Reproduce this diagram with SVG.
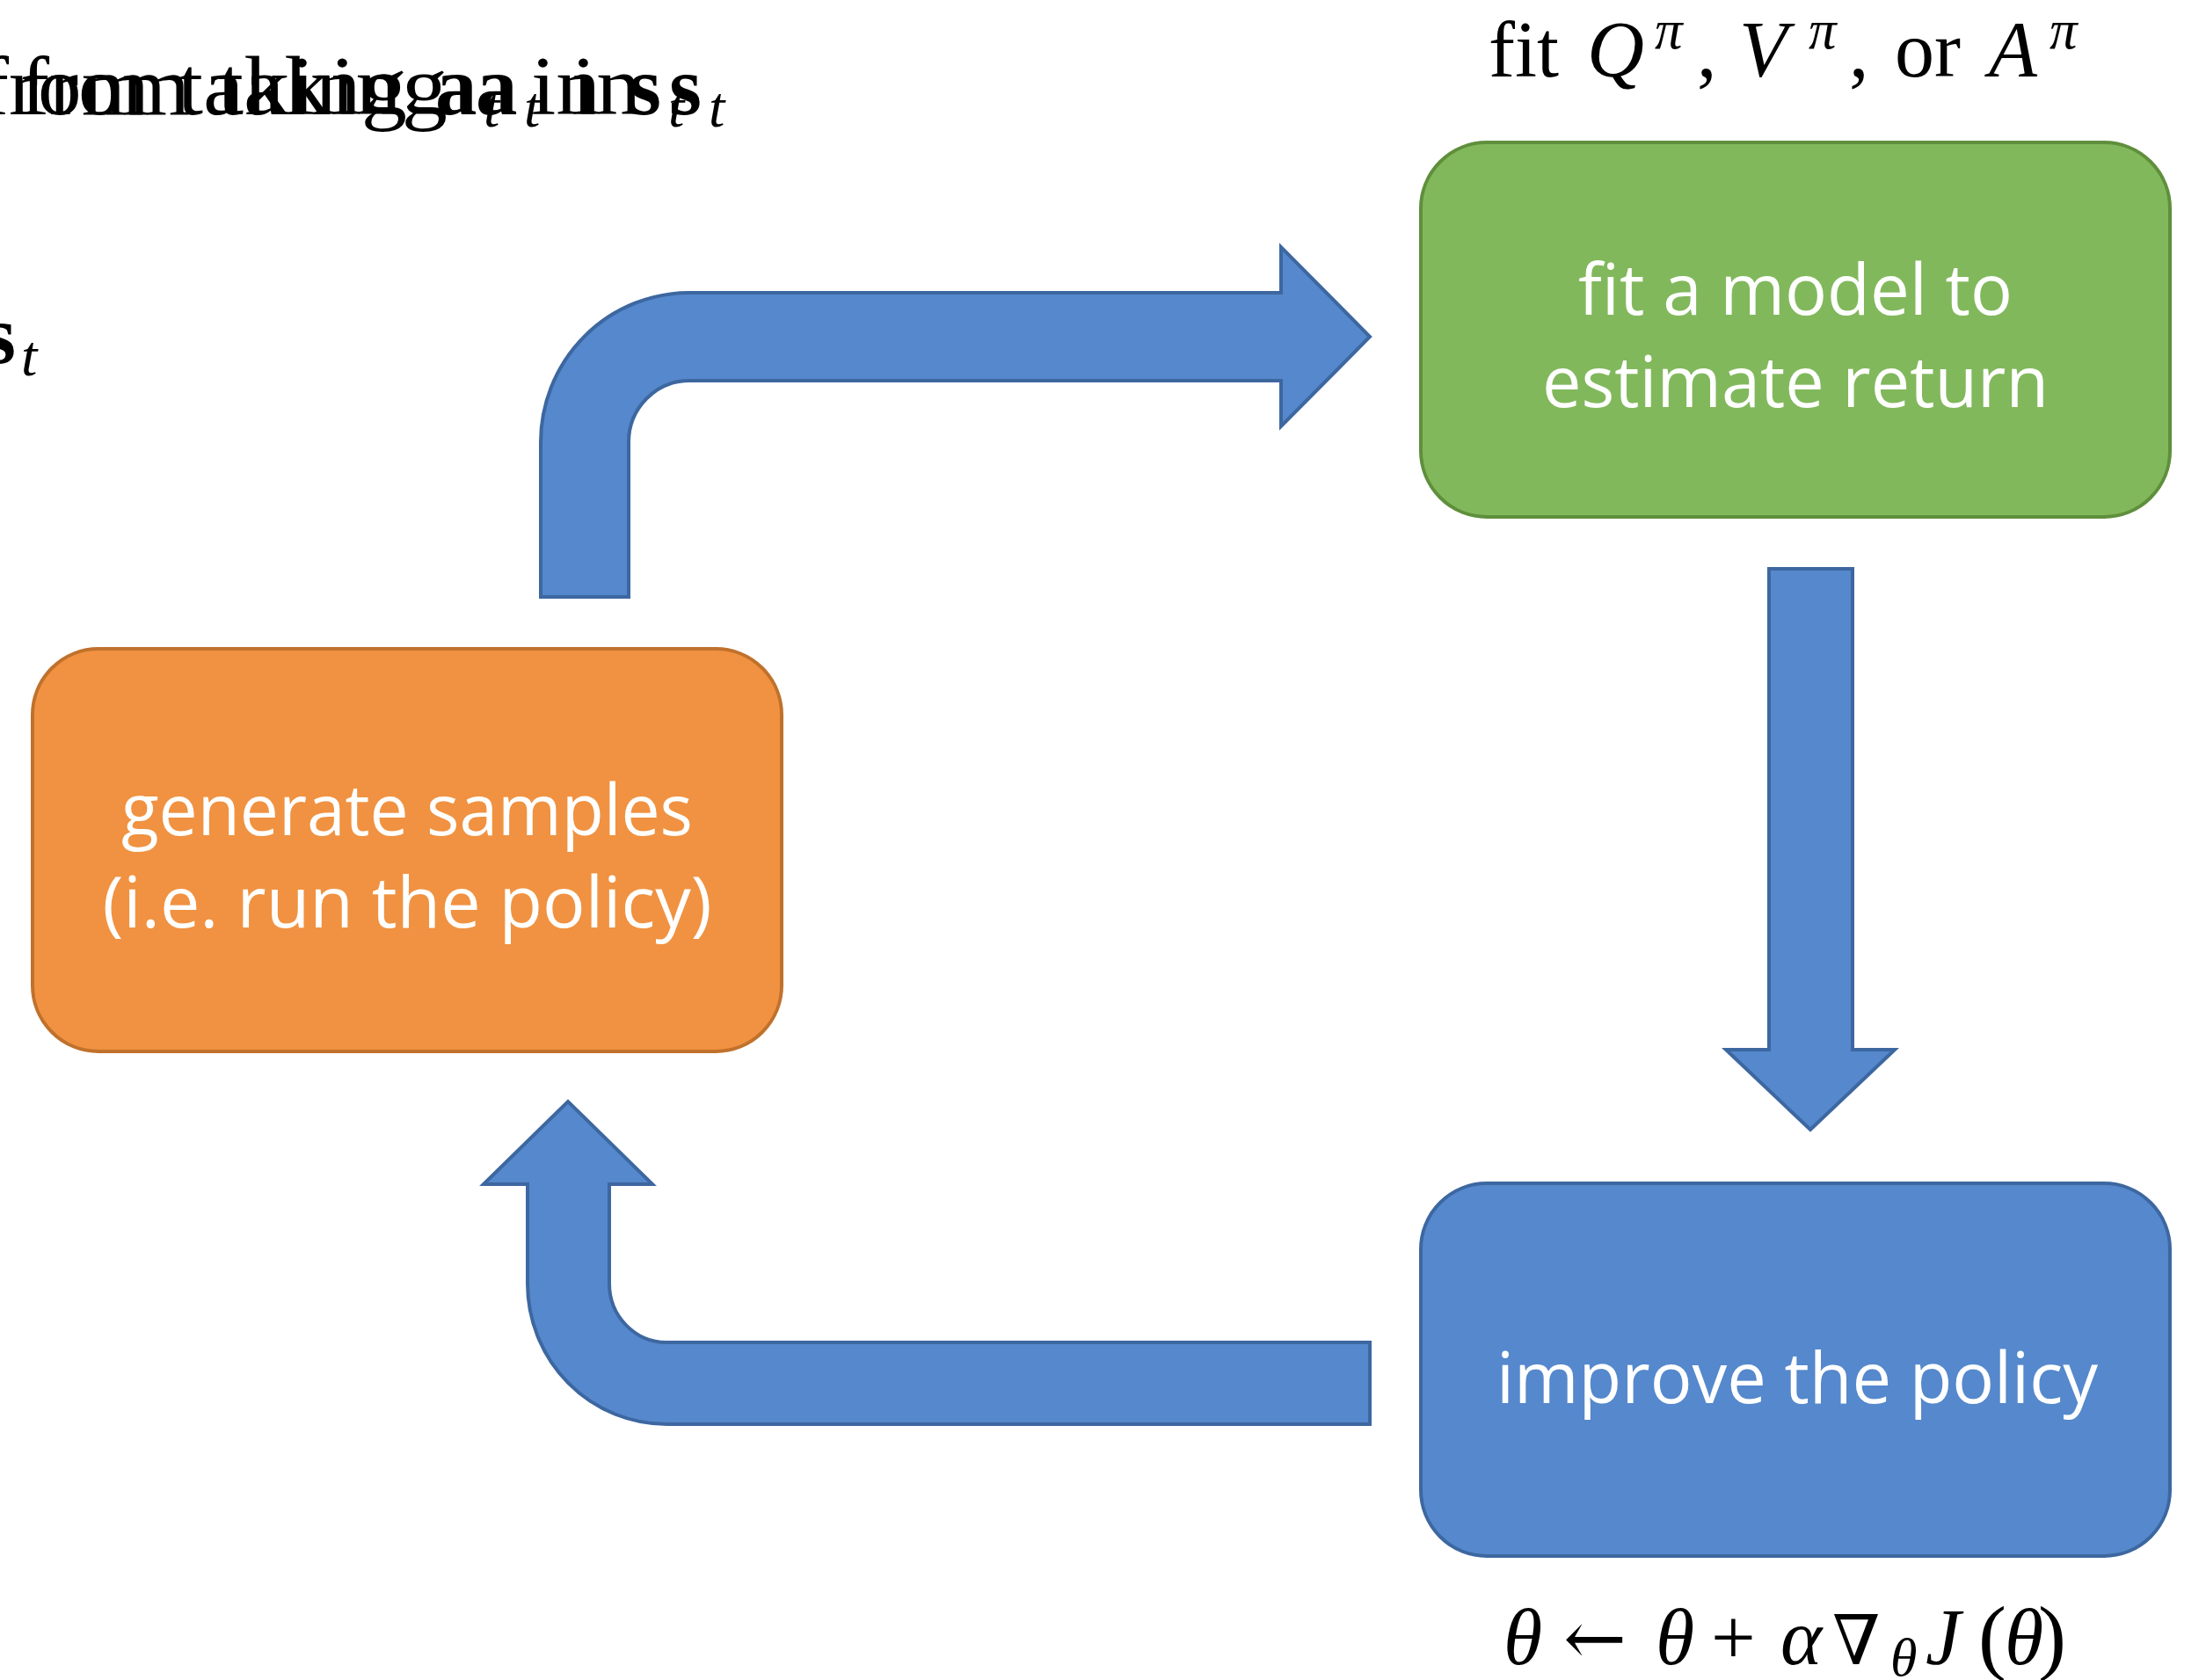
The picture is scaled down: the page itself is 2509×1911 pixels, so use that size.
<svg xmlns="http://www.w3.org/2000/svg" width="2509" height="1911" viewBox="0 0 2509 1911">
<style>
.node-text{font-family:"Open Sans",Lato,"Liberation Sans",sans-serif;font-size:80px;fill:#ffffff;text-anchor:middle}
.math{font-family:"Liberation Serif","DejaVu Serif",serif;font-size:90px;fill:#000000}
.big{font-size:95px}
.sub{font-size:66px;font-style:italic}
.it{font-style:italic}
.bf{font-weight:bold}
.sym{font-family:"DejaVu Serif","Liberation Serif",serif}
.arrow{fill:#5588CC;stroke:#3D67A0;stroke-width:4;stroke-linejoin:miter}
</style>
<rect width="2509" height="1911" fill="#ffffff"/>

<g id="overlap-label">
<text class="math big" x="-23" y="130" textLength="193" lengthAdjust="spacingAndGlyphs">from</text>
<text class="math big" x="202" y="130" textLength="261" lengthAdjust="spacingAndGlyphs">taking</text>
<text class="math big bf" x="495" y="130">a</text>
<text class="math sub" x="550" y="144">t</text>
<text class="math big" x="604" y="130" textLength="79" lengthAdjust="spacingAndGlyphs">in</text>
<text class="math big bf" x="715" y="130">s</text>
<text class="math sub" x="760" y="144">t</text>
<text class="math big" x="23" y="130" textLength="193" lengthAdjust="spacingAndGlyphs">from</text>
<text class="math big" x="248" y="130" textLength="261" lengthAdjust="spacingAndGlyphs">taking</text>
<text class="math big bf" x="541" y="130">a</text>
<text class="math sub" x="596" y="144">t</text>
<text class="math big" x="650" y="130" textLength="79" lengthAdjust="spacingAndGlyphs">in</text>
<text class="math big bf" x="761" y="130">s</text>
<text class="math sub" x="806" y="144">t</text>
<text class="math big bf" x="-19" y="413">s</text>
<text class="math sub" x="24" y="427">t</text>
</g>

<g id="label-fit">
<text class="math" y="87"><tspan x="1693">fit</tspan><tspan x="1805" class="it">Q</tspan><tspan x="1882" y="55" class="it" font-size="63">π</tspan><tspan x="1930" y="87">,</tspan><tspan x="1978" class="it">V</tspan><tspan x="2057" y="55" class="it" font-size="63">π</tspan><tspan x="2103" y="87">,</tspan><tspan x="2155">or</tspan><tspan x="2262" class="it">A</tspan><tspan x="2331" y="55" class="it" font-size="63">π</tspan></text>
</g>

<g id="label-update">
<text class="math" y="1893" font-size="88"><tspan x="1710" class="it">θ</tspan><tspan x="1778" class="sym" font-size="86">←</tspan><tspan x="1883" class="it">θ</tspan><tspan x="1946">+</tspan><tspan x="2025" class="it">α</tspan><tspan x="2084" class="sym" font-size="78">∇</tspan><tspan x="2150" y="1906" class="it" font-size="62">θ</tspan><tspan x="2190" y="1893" class="it">J</tspan><tspan x="2250" font-size="96">(</tspan><tspan x="2280" class="it">θ</tspan><tspan x="2318" font-size="96">)</tspan></text>
</g>

<g id="connectors">
<path id="arrow-samples-to-fit" class="arrow" d="M615 679 L615 503 A169 170 0 0 1 784 333 L1457 333 L1457 281 L1558 383 L1457 485 L1457 433 L784 433 A69 70 0 0 0 715 503 L715 679 Z"/>
<path id="arrow-fit-to-improve" class="arrow" d="M2012 647 L2107 647 L2107 1194 L2155 1194 L2059 1285 L1963 1194 L2012 1194 Z"/>
<path id="arrow-improve-to-samples" class="arrow" d="M1558 1527 L758 1527 A65 67 0 0 1 693 1460 L693 1347 L742 1347 L646 1253 L550 1347 L600 1347 L600 1460 A158 160 0 0 0 758 1620 L1558 1620 Z"/>
</g>

<g id="node-generate">
<rect x="37" y="738" width="852" height="458" rx="75" ry="75" fill="#F09241" stroke="#C0712C" stroke-width="4"/>
<text class="node-text" x="463" y="950" textLength="650" lengthAdjust="spacingAndGlyphs">generate samples</text>
<text class="node-text" x="463" y="1055" textLength="693" lengthAdjust="spacingAndGlyphs">(i.e. run the policy)</text>
</g>

<g id="node-fit">
<rect x="1616" y="162" width="852" height="426" rx="75" ry="75" fill="#82B85C" stroke="#5F8F3C" stroke-width="4"/>
<text class="node-text" x="2042" y="358" textLength="494" lengthAdjust="spacingAndGlyphs">fit a model to</text>
<text class="node-text" x="2042" y="463" textLength="576" lengthAdjust="spacingAndGlyphs">estimate return</text>
</g>

<g id="node-improve">
<rect x="1616" y="1346" width="852" height="424" rx="75" ry="75" fill="#5588CC" stroke="#3D67A0" stroke-width="4"/>
<text class="node-text" x="2044" y="1596" textLength="684" lengthAdjust="spacingAndGlyphs">improve the policy</text>
</g>
</svg>
